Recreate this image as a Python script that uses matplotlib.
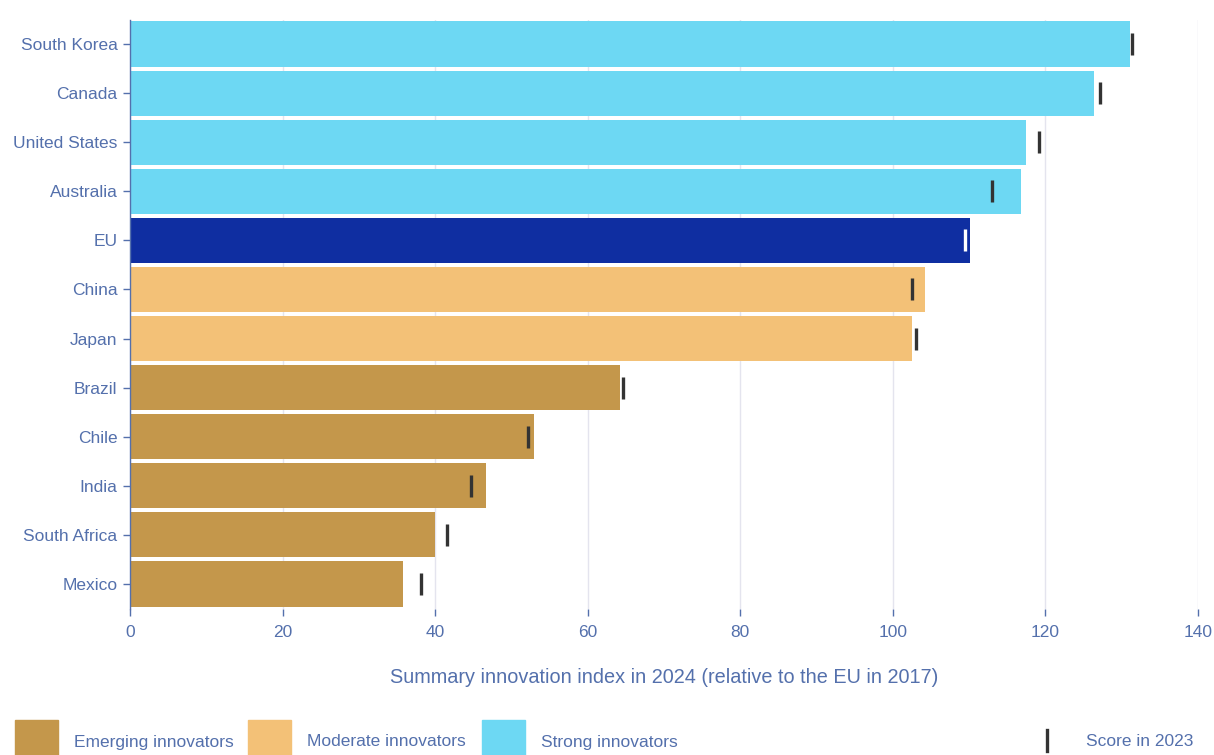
import matplotlib
matplotlib.use("AGG")
import matplotlib.pyplot as plt
from matplotlib.patches import Rectangle
from matplotlib.lines import Line2D

plt.rcParams['font.family'] = ['Liberation Sans', 'DejaVu Sans']

# data, top to bottom
countries = ["South Korea", "Canada", "United States", "Australia", "EU", "China",
             "Japan", "Brazil", "Chile", "India", "South Africa", "Mexico"]
score_2024 = [131.1, 126.4, 117.5, 116.8, 110.1, 104.2, 102.5, 64.2, 53.0, 46.7, 40.0, 35.8]
score_2023 = [131.4, 127.1, 119.2, 113.0, 109.4, 102.5, 103.0, 64.6, 52.2, 44.7, 41.6, 38.2]
groups = ["Strong", "Strong", "Strong", "Strong", "EU", "Moderate", "Moderate",
          "Emerging", "Emerging", "Emerging", "Emerging", "Emerging"]

group_colors = {
    "Strong": "#6dd8f3",
    "EU": "#0f2ea1",
    "Moderate": "#f3c177",
    "Emerging": "#c4974b",
}
text_color = "#5470ac"

fig = plt.figure(figsize=(12.14, 7.55), dpi=100)
ax = fig.add_axes([130 / 1214, 1 - 608.5 / 755, 1068 / 1214, 589 / 755])

ypos = list(range(len(countries)))
ax.barh(ypos, score_2024, height=0.92, color=[group_colors[g] for g in groups], zorder=2)

for y, v, g in zip(ypos, score_2023, groups):
    mc = "white" if g == "EU" else "#333333"
    ax.plot([v], [y], marker="|", markersize=15.5, markeredgewidth=2.4,
            color=mc, linestyle="none", zorder=3)

ax.set_xlim(0, 140)
ax.set_ylim(len(countries) - 0.5, -0.5)
ax.set_yticks(ypos)
ax.set_yticklabels(countries)
ax.set_xticks(range(0, 141, 20))
ax.grid(axis="x", color="#e4e4ee", linewidth=1, zorder=0)
ax.set_axisbelow(True)

for s in ["top", "right", "bottom"]:
    ax.spines[s].set_visible(False)
ax.spines["left"].set_color(text_color)
ax.spines["left"].set_linewidth(1)

ax.tick_params(axis="y", colors=text_color, labelsize=12.5, length=5, width=1, pad=4)
ax.tick_params(axis="x", colors=text_color, labelsize=12.5, length=5, width=1, pad=7)

ax.set_xlabel("Summary innovation index in 2024 (relative to the EU in 2017)",
              color=text_color, fontsize=14.3, labelpad=20)

# legend along the bottom
legend_items = [("Emerging innovators", group_colors["Emerging"], 15),
                ("Moderate innovators", group_colors["Moderate"], 248),
                ("Strong innovators", group_colors["Strong"], 482)]
for label, col, x0 in legend_items:
    fig.add_artist(Rectangle((x0 / 1214, 0), 43 / 1214, 35 / 755,
                             transform=fig.transFigure, color=col))
    fig.text((x0 + 59) / 1214, 13 / 755, label, color=text_color, fontsize=12.5, va="center")

fig.add_artist(Line2D([1047 / 1214, 1047 / 1214], [4 / 755, 25 / 755],
                      transform=fig.transFigure, color="#333333", linewidth=2.4))
fig.text(1086 / 1214, 13 / 755, "Score in 2023", color=text_color, fontsize=12.5, va="center")

fig.savefig("out.png", dpi=100)
